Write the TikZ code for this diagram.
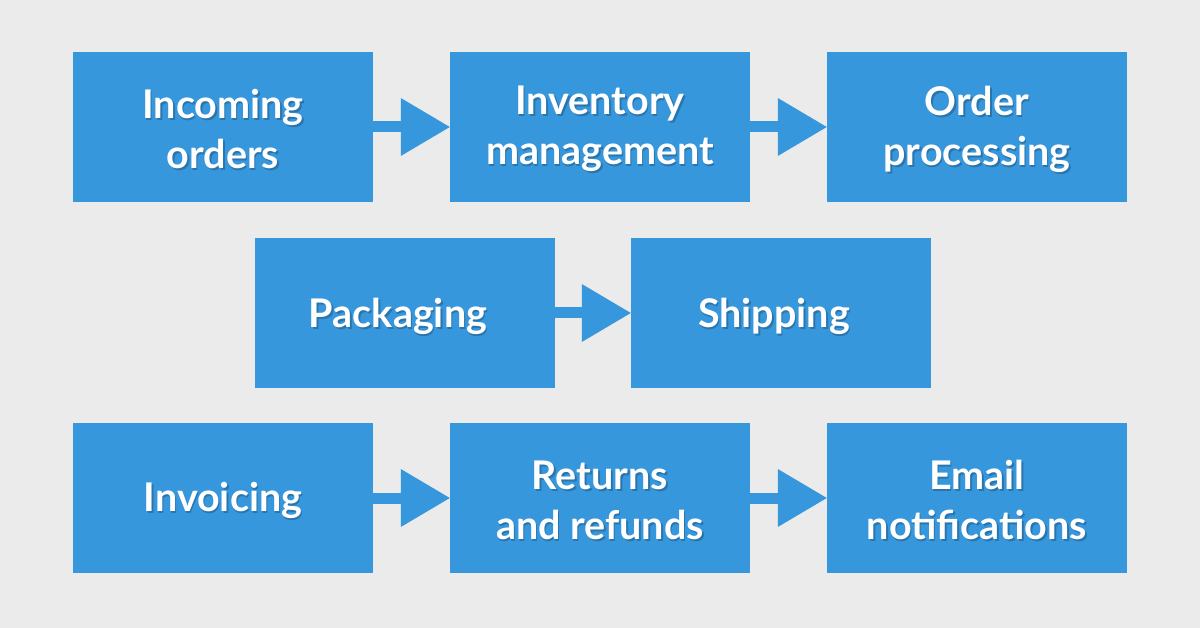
\documentclass[tikz,border=0pt]{standalone}
\usepackage{fontspec}
\setmainfont{Lato}
\usetikzlibrary{arrows.meta}
\definecolor{bg}{HTML}{EBEBEB}
\definecolor{boxblue}{HTML}{3697DC}
\tikzset{
  box/.style={fill=boxblue, minimum width=300pt, minimum height=150pt, inner sep=0pt, text=white, align=center, font=\fontsize{39.5}{50}\selectfont\bfseries},
  shad/.style={minimum width=300pt, minimum height=150pt, inner sep=0pt, text=black, text opacity=0.22, align=center, font=\fontsize{39.5}{50}\selectfont\bfseries},
  flow/.style={draw=boxblue, line width=11pt, -{Triangle[length=49pt, width=58pt, line width=0pt]}}
}
\begin{document}
\begin{tikzpicture}[x=1pt, y=-1pt]
\fill[bg] (0,0) rectangle (1200,628);
\useasboundingbox (0,0) rectangle (1200,628);
% boxes
\node[box] (a) at (223,127) {};
\node[box] (b) at (600,127) {};
\node[box] (c) at (977,127) {};
\node[box] (d) at (405,313) {};
\node[box] (e) at (781,313) {};
\node[box] (f) at (223,498) {};
\node[box] (g) at (600,498) {};
\node[box] (h) at (977,498) {};
% text anchors
\coordinate (ca) at ([yshift=-2pt]a.center);
\coordinate (cb) at ([yshift=-2pt]b.center);
\coordinate (cc) at ([yshift=-2pt]c.center);
\coordinate (cd) at ([shift={(-7pt,-3pt)}]d.center);
\coordinate (ce) at ([shift={(-7pt,-3pt)}]e.center);
\coordinate (cf) at ([yshift=-2pt]f.center);
\coordinate (cg) at ([yshift=-2pt]g.center);
\coordinate (ch) at ([yshift=-2pt]h.center);
% text shadows
\node[shad] (sa) at ([shift={(1.5pt,-2pt)}]ca) {Incoming\\orders};
\node[shad] (sb) at ([shift={(1.5pt,-2pt)}]cb) {Inventory\\management};
\node[shad] (sc) at ([shift={(1.5pt,-2pt)}]cc) {Order\\processing};
\node[shad] (sd) at ([shift={(1.5pt,-2pt)}]cd) {Packaging};
\node[shad] (se) at ([shift={(1.5pt,-2pt)}]ce) {Shipping};
\node[shad] (sf) at ([shift={(1.5pt,-2pt)}]cf) {Invoicing};
\node[shad] (sg) at ([shift={(1.5pt,-2pt)}]cg) {Returns\\and refunds};
\node[shad] (sh) at ([shift={(1.5pt,-2pt)}]ch) {Email\\notifications};
% texts
\node[box, fill=none] (ta) at (ca) {Incoming\\orders};
\node[box, fill=none] (tb) at (cb) {Inventory\\management};
\node[box, fill=none] (tc) at (cc) {Order\\processing};
\node[box, fill=none] (td) at (cd) {Packaging};
\node[box, fill=none] (te) at (ce) {Shipping};
\node[box, fill=none] (tf) at (cf) {Invoicing};
\node[box, fill=none] (tg) at (cg) {Returns\\and refunds};
\node[box, fill=none] (th) at (ch) {Email\\notifications};
% arrows
\draw[flow] (a.east) -- (b.west);
\draw[flow] (b.east) -- (c.west);
\draw[flow] (d.east) -- (e.west);
\draw[flow] (f.east) -- (g.west);
\draw[flow] (g.east) -- (h.west);
\end{tikzpicture}
\end{document}
